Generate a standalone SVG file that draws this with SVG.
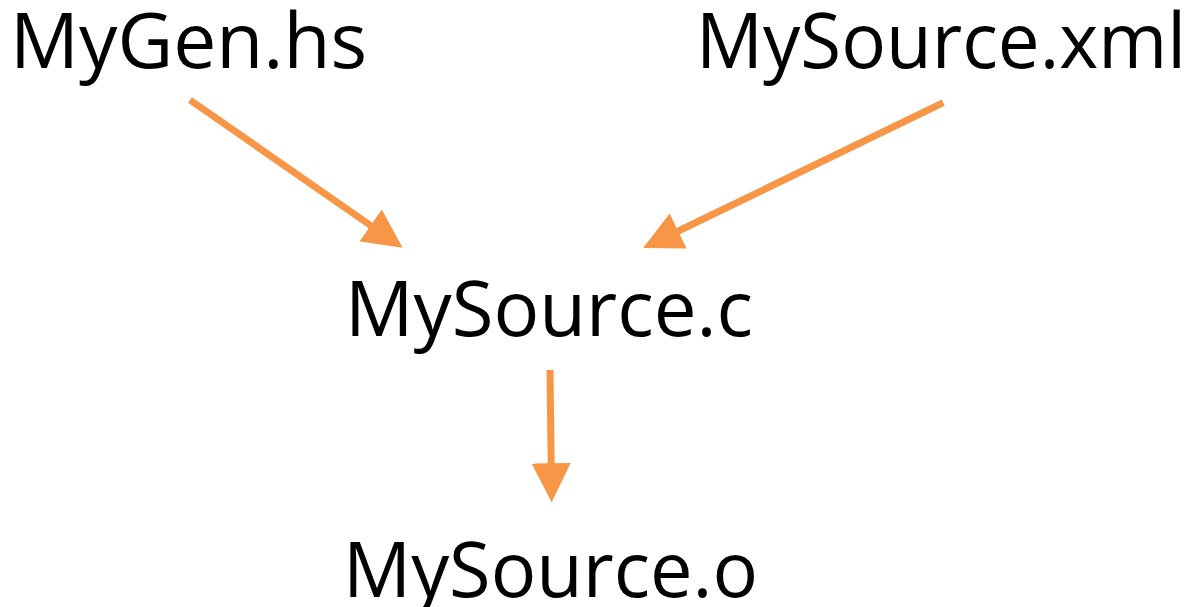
<svg xmlns="http://www.w3.org/2000/svg" width="1193" height="607" viewBox="0 0 1193 607">
<style>
.lbl{font-family:"Open Sans","Noto Sans","Liberation Sans",sans-serif;font-size:77px;fill:#000}
.conn{stroke:#F79646;stroke-width:7;fill:none;marker-end:url(#ah)}
</style>
<defs>
<marker id="ah" markerUnits="userSpaceOnUse" viewBox="0 0 39 39" markerWidth="39" markerHeight="39" refX="1" refY="19.5" orient="auto">
<path d="M0,0 L39,19.5 L0,39 z" fill="#F79646"/>
</marker>
</defs>
<rect width="1193" height="607" fill="#fff"/>
<g id="n-mygen"><text class="lbl" x="10" y="68" textLength="357" lengthAdjust="spacingAndGlyphs">MyGen.hs</text></g>
<g id="n-xml"><text class="lbl" x="696" y="68" textLength="490" lengthAdjust="spacingAndGlyphs">MySource.xml</text></g>
<g id="n-c"><text class="lbl" x="345" y="336" textLength="408" lengthAdjust="spacingAndGlyphs">MySource.c</text></g>
<g id="n-o"><text class="lbl" x="343" y="597" textLength="415" lengthAdjust="spacingAndGlyphs">MySource.o</text></g>
<g id="connectors">
<line class="conn" x1="190" y1="100" x2="371.4" y2="226"/>
<line class="conn" x1="943.3" y1="102.7" x2="677.3" y2="231.5"/>
<line class="conn" x1="550" y1="370" x2="551.2" y2="464.3"/>
</g>
</svg>
